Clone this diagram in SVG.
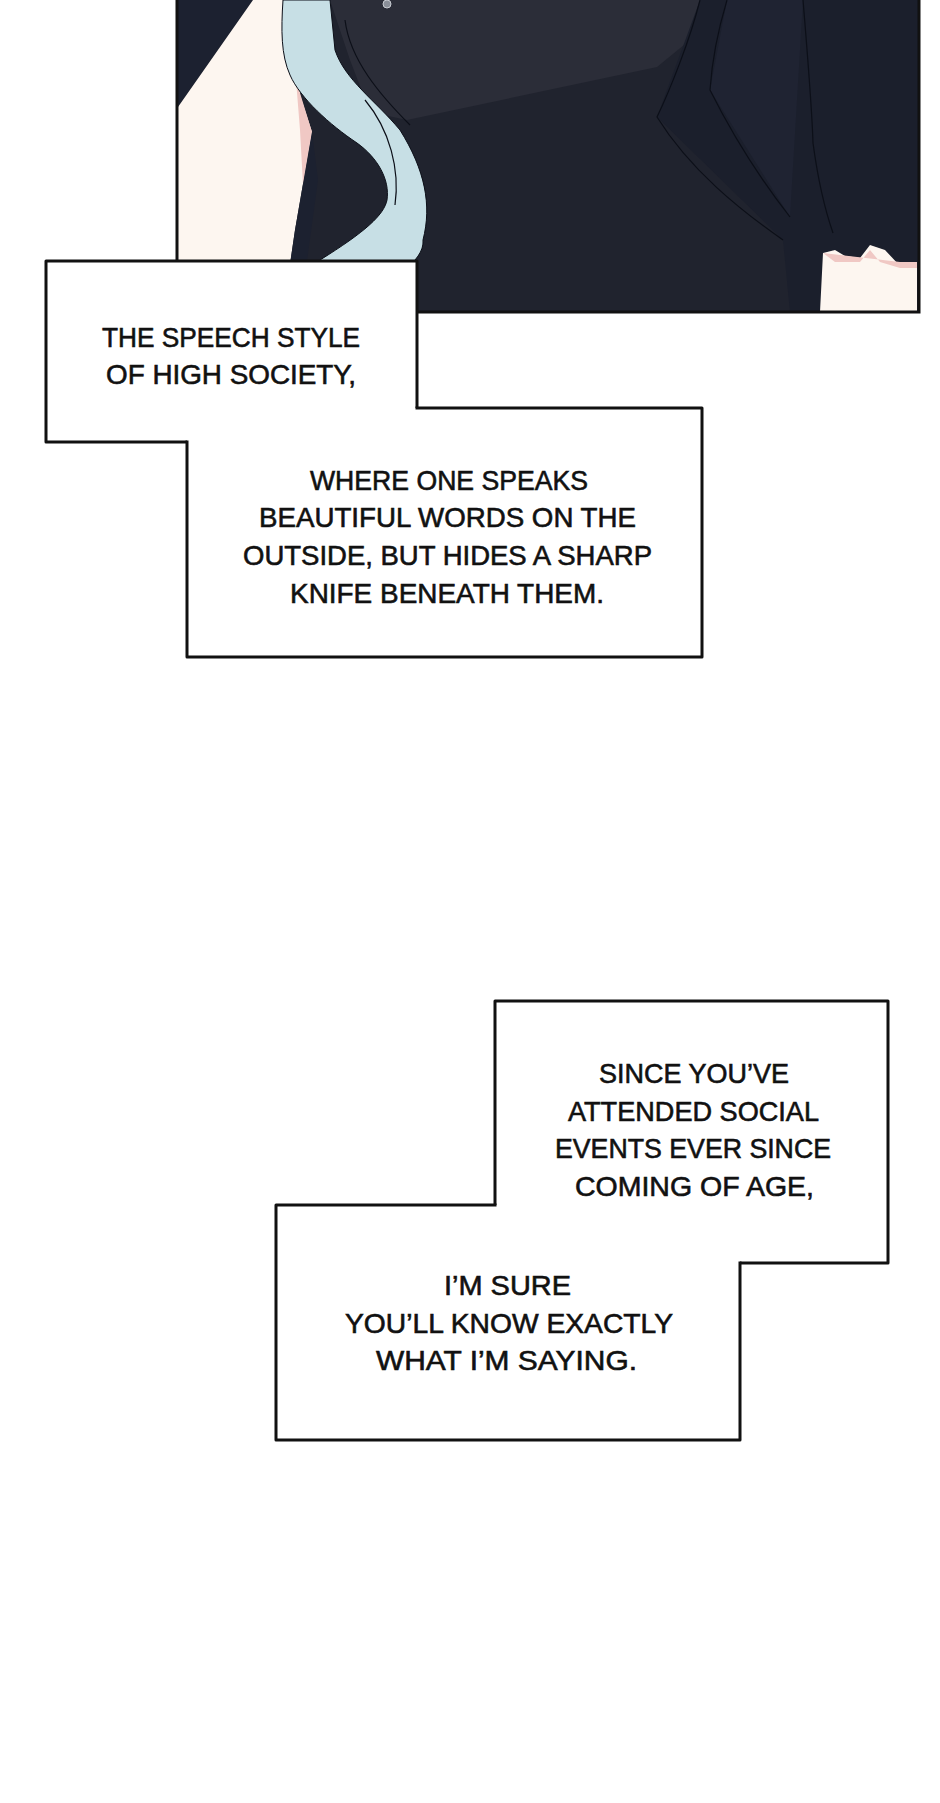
<svg xmlns="http://www.w3.org/2000/svg" width="940" height="1803" viewBox="0 0 940 1803">
<style>
.box{fill:#ffffff;stroke:none}
.edge{fill:none;stroke:#111111;stroke-width:3;stroke-linejoin:round;stroke-linecap:square}
.t{font-family:"Liberation Sans","Noto Sans",sans-serif;font-size:28px;fill:#111111;stroke:#111111;stroke-width:0.6;text-anchor:start}
.ln{fill:none;stroke:#0c0f18;stroke-width:1.2}
</style>
<rect x="0" y="0" width="940" height="1803" fill="#ffffff"/>
<g id="panel">
<rect x="177" y="0" width="742" height="312" fill="#20232e"/>
<path d="M330,0 H700 L690,40 L657,67 L407,120 L370,112 L350,60 Z" fill="#2b2d38"/>
<path d="M700,0 H919 V312 H790 L783,240 L657,117 Z" fill="#1b1f2c"/>
<path d="M727,0 L710,90 L790,217 L803,0 Z" fill="#1f2332"/>
<path d="M178,0 H253 L178,107 Z" fill="#1c2130"/>
<path d="M178,107 L253,0 H292 L300,95 L312,132 L295,230 L283,312 H178 Z" fill="#fdf6f0"/>
<path d="M296,80 L312,132 L303,185 L300,130 Z" fill="#f0c8c4"/>
<path d="M312,132 L318,180 L300,312 L283,312 L295,230 Z" fill="#1c2130"/>
<path d="M283,0 C281,30 281,55 290,75 C300,98 330,125 357,143 C378,158 390,180 387,200 C384,215 365,232 320,260 L300,312 L350,312 C390,280 425,262 423,240 C432,205 425,170 400,130 C375,100 345,80 335,50 L330,0 Z" fill="#c7dfe5" stroke="#0c0f18" stroke-width="1"/>
<path d="M345,20 C350,60 380,95 410,125" class="ln" stroke="#9fbcc6"/>
<path d="M365,100 C390,130 400,170 395,205" class="ln"/>
<path d="M700,0 C690,40 670,90 657,117 C690,170 740,210 783,240" class="ln"/>
<path d="M727,0 C718,30 712,60 710,90 C735,140 765,185 790,217" class="ln"/>
<path d="M803,0 C808,60 812,110 813,143 C818,180 825,210 833,233" class="ln"/>
<path d="M823,253 L820,312 H917 V268 L900,266 L885,250 L870,245 L860,258 L845,256 L835,250 Z" fill="#fdf6f0"/>
<path d="M823,253 L835,262 L860,262 L870,250 L880,262 L900,268 L917,268 L917,262 L900,262 Z" fill="#f0c8c4"/>
<circle cx="387" cy="4" r="4" fill="#8a8f99" stroke="#c9ccd2" stroke-width="1"/>
<path d="M177,0 V312 H919 V0" fill="none" stroke="#111111" stroke-width="3"/>
</g>
<g id="box1">
<rect class="box" x="46" y="261" width="371" height="181"/>
<path class="edge" d="M187,442 H46 V261 H417 V408"/>
<text class="t" x="102" y="347" textLength="258" lengthAdjust="spacingAndGlyphs">THE SPEECH STYLE</text>
<text class="t" x="106" y="384" textLength="250" lengthAdjust="spacingAndGlyphs">OF HIGH SOCIETY,</text>
</g>
<g id="box2">
<rect class="box" x="187" y="408" width="515" height="249"/>
<path class="edge" d="M417,408 H702 V657 H187 V442"/>
<text class="t" x="310" y="490" textLength="278" lengthAdjust="spacingAndGlyphs">WHERE ONE SPEAKS</text>
<text class="t" x="259" y="527" textLength="377" lengthAdjust="spacingAndGlyphs">BEAUTIFUL WORDS ON THE</text>
<text class="t" x="243" y="565" textLength="409" lengthAdjust="spacingAndGlyphs">OUTSIDE, BUT HIDES A SHARP</text>
<text class="t" x="290" y="603" textLength="314" lengthAdjust="spacingAndGlyphs">KNIFE BENEATH THEM.</text>
</g>
<g id="box3">
<rect class="box" x="495" y="1001" width="393" height="262"/>
<path class="edge" d="M495,1205 V1001 H888 V1263 H740"/>
<text class="t" x="599" y="1083" textLength="190" lengthAdjust="spacingAndGlyphs">SINCE YOU’VE</text>
<text class="t" x="568" y="1121" textLength="251" lengthAdjust="spacingAndGlyphs">ATTENDED SOCIAL</text>
<text class="t" x="555" y="1158" textLength="276" lengthAdjust="spacingAndGlyphs">EVENTS EVER SINCE</text>
<text class="t" x="575" y="1196" textLength="239" lengthAdjust="spacingAndGlyphs">COMING OF AGE,</text>
</g>
<g id="box4">
<rect class="box" x="276" y="1205" width="464" height="235"/>
<path class="edge" d="M495,1205 H276 V1440 H740 V1263"/>
<text class="t" x="444" y="1295" textLength="127" lengthAdjust="spacingAndGlyphs">I’M SURE</text>
<text class="t" x="345" y="1333" textLength="328" lengthAdjust="spacingAndGlyphs">YOU’LL KNOW EXACTLY</text>
<text class="t" x="376" y="1370" textLength="261" lengthAdjust="spacingAndGlyphs">WHAT I’M SAYING.</text>
</g>
<g id="connectors"></g>
</svg>
